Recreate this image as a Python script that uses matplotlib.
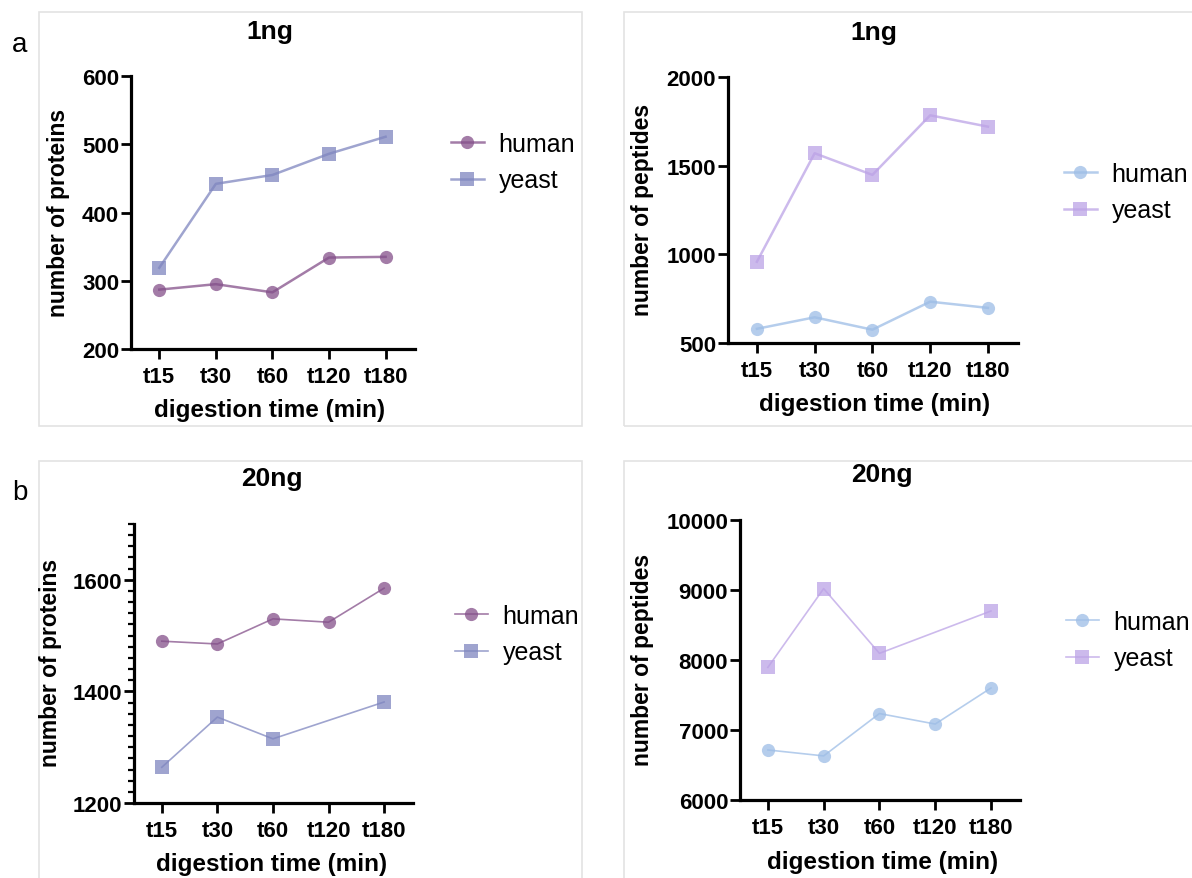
import numpy as np
import matplotlib
matplotlib.use("Agg")
import matplotlib.pyplot as plt
from matplotlib.patches import Rectangle
from matplotlib.ticker import MultipleLocator

plt.rcParams['font.family'] = ['Liberation Sans', 'DejaVu Sans']

# ---------------- data ----------------
categories = ["t15", "t30", "t60", "t120", "t180"]
series_names = ["human", "yeast"]

proteins_1ng_human = [287, 295, 283, 334, 335]
proteins_1ng_yeast = [319, 442, 455, 486, 511]

peptides_1ng_human = [580, 645, 575, 733, 698]
peptides_1ng_yeast = [958, 1570, 1448, 1784, 1720]

proteins_20ng_human = [1490, 1485, 1530, 1524, 1585]
proteins_20ng_yeast = [1264, 1354, 1315, None, 1381]

peptides_20ng_human = [6715, 6630, 7235, 7085, 7600]
peptides_20ng_yeast = [7895, 9020, 8095, None, 8700]

W, H = 1192, 879
fig = plt.figure(figsize=(W / 100, H / 100), dpi=100)
fig.patch.set_facecolor('white')


def fx(px):
    return px / W


def fy(py):
    return 1 - py / H


# panel frames
for (x0, y0, x1, y1) in [(39, 13, 582, 427), (624, 13, 1195, 427),
                         (39, 462, 582, 882), (624, 462, 1195, 882)]:
    fig.patches.append(Rectangle((fx(x0), fy(y1)), fx(x1 - x0), (y1 - y0) / H,
                                 transform=fig.transFigure, fill=False,
                                 edgecolor='#e3e3e3', linewidth=1.2, zorder=0))

fig.text(fx(12), fy(45), "a", fontsize=20, ha='left', va='center')
fig.text(fx(12), fy(493), "b", fontsize=20, ha='left', va='center')


def make_panel(ax_box, ylim, yticks, minor, human, yeast, colors, ylabel,
               title, title_pos, ylabel_pos, xlabel_pos, legend_pos, lw):
    left, top, right, bottom = ax_box
    ax = fig.add_axes([fx(left), fy(bottom), fx(right - left), (bottom - top) / H])
    x = np.arange(len(categories))
    for vals, col, mk, name in [(human, colors[0], 'o', series_names[0]),
                                (yeast, colors[1], 's', series_names[1])]:
        v = np.array([np.nan if a is None else a for a in vals], dtype=float)
        m = ~np.isnan(v)
        ax.plot(x[m], v[m], color=col, lw=lw, marker=mk, markersize=9.5,
                markeredgewidth=0, alpha=0.75, label=name, clip_on=False)
    ax.set_xlim(-0.5, 4.52)
    ax.set_ylim(*ylim)
    ax.set_yticks(yticks)
    if minor:
        ax.yaxis.set_minor_locator(MultipleLocator(minor))
        ax.tick_params(axis='y', which='minor', length=4.5, width=1.6)
    ax.set_xticks(x)
    ax.set_xticklabels(categories)
    for s in ['top', 'right']:
        ax.spines[s].set_visible(False)
    for s in ['left', 'bottom']:
        ax.spines[s].set_linewidth(2.3)
    ax.tick_params(axis='both', which='major', length=7, width=2, labelsize=16,
                   pad=1.5)
    ax.tick_params(axis='x', pad=5)
    for lab in ax.get_xticklabels() + ax.get_yticklabels():
        lab.set_fontweight('bold')
    fig.text(fx(title_pos[0]), fy(title_pos[1]), title, fontsize=19,
             fontweight='bold', ha='center', va='center')
    fig.text(fx(ylabel_pos[0]), fy(ylabel_pos[1]), ylabel, fontsize=16.5,
             fontweight='bold', ha='center', va='center', rotation=90)
    fig.text(fx(xlabel_pos[0]), fy(xlabel_pos[1]), "digestion time (min)",
             fontsize=17.5, fontweight='bold', ha='center', va='center')
    fig.legend(handles=ax.get_lines(), labels=series_names, loc='center left',
               bbox_to_anchor=(fx(legend_pos[0]), fy(legend_pos[1])),
               bbox_transform=fig.transFigure, frameon=False, fontsize=18,
               handlelength=1.3, handletextpad=0.6, labelspacing=0.5,
               borderpad=0, borderaxespad=0)
    return ax


purple = '#84508a'
slate = '#7f86bf'
lblue = '#9dbde6'
lav = '#bca3e6'

make_panel((131, 77, 415, 350), (200, 600), [200, 300, 400, 500, 600], None,
           proteins_1ng_human, proteins_1ng_yeast, (purple, slate),
           "number of proteins", "1ng", (270, 32), (59, 213), (270, 411),
           (451, 163), 1.8)

make_panel((728, 78, 1018, 344), (500, 2000), [500, 1000, 1500, 2000], None,
           peptides_1ng_human, peptides_1ng_yeast, (lblue, lav),
           "number of peptides", "1ng", (874, 33), (642, 210), (875, 404),
           (1064, 193), 1.8)

make_panel((134, 525, 413, 804), (1200, 1700), [1200, 1400, 1600], 20,
           proteins_20ng_human, proteins_20ng_yeast, (purple, slate),
           "number of proteins", "20ng", (272, 479), (51, 663), (272, 865),
           (455, 635), 1.2)

make_panel((740, 521, 1020, 801), (6000, 10000),
           [6000, 7000, 8000, 9000, 10000], None,
           peptides_20ng_human, peptides_20ng_yeast, (lblue, lav),
           "number of peptides", "20ng", (882, 475), (643, 660), (883, 863),
           (1066, 641), 1.2)

fig.savefig("out.png", dpi=100, facecolor='white')
